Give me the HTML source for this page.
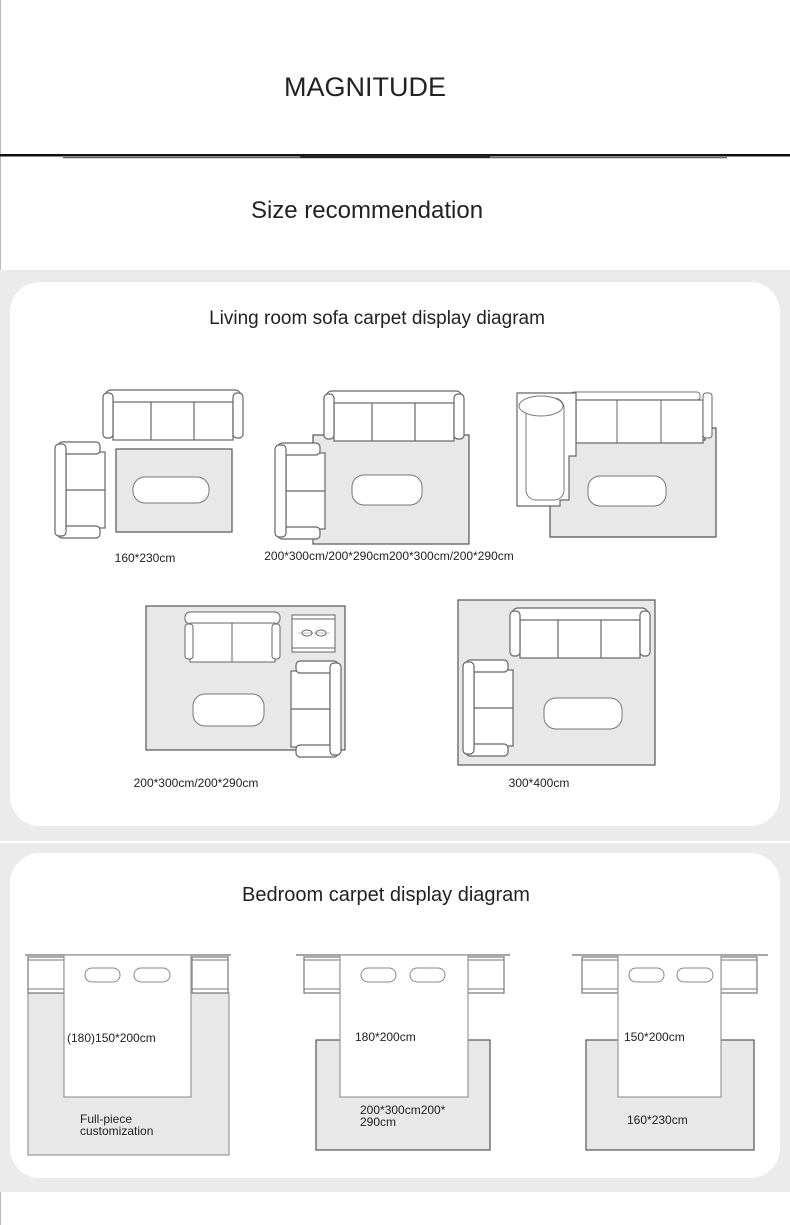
<!DOCTYPE html>
<html><head><meta charset="utf-8"><style>
html,body{margin:0;padding:0;background:#fff}
svg{display:block}
text{font-family:"Liberation Sans",sans-serif;fill:#222}
</style></head><body>
<svg width="790" height="1225" viewBox="0 0 790 1225" xmlns="http://www.w3.org/2000/svg">
<defs>
<g id="sofa3">
 <rect x="2" y="0" width="136" height="13" rx="6" fill="#fff" stroke="#666" stroke-width="1.2"/>
 <rect x="10" y="12" width="120" height="38" fill="#fff" stroke="#666" stroke-width="1.2"/>
 <line x1="48" y1="12" x2="48" y2="50" stroke="#666" stroke-width="1.2"/>
 <line x1="91" y1="12" x2="91" y2="50" stroke="#666" stroke-width="1.2"/>
 <rect x="0" y="3" width="10" height="45" rx="4" fill="#fff" stroke="#666" stroke-width="1.2"/>
 <rect x="130" y="3" width="10" height="45" rx="4" fill="#fff" stroke="#666" stroke-width="1.2"/>
</g>
<g id="chair">
 <rect x="11" y="10" width="39" height="76" fill="#fff" stroke="#666" stroke-width="1.2"/>
 <line x1="11" y1="48" x2="50" y2="48" stroke="#666" stroke-width="1.2"/>
 <rect x="3" y="0" width="42" height="12" rx="4" fill="#fff" stroke="#666" stroke-width="1.2"/>
 <rect x="3" y="84" width="42" height="12" rx="4" fill="#fff" stroke="#666" stroke-width="1.2"/>
 <rect x="0" y="2" width="11" height="92" rx="4" fill="#fff" stroke="#666" stroke-width="1.2"/>
</g>
<g id="nst"><rect x="0" y="0" width="36" height="36" fill="#fff" stroke="#777" stroke-width="1.2"/><line x1="0" y1="3" x2="36" y2="3" stroke="#777"/><line x1="0" y1="32" x2="36" y2="32" stroke="#777"/></g>
</defs>

<rect x="0" y="0" width="1" height="270" fill="#bbb"/>
<text x="365" y="96" font-size="27" text-anchor="middle">MAGNITUDE</text>
<rect x="0" y="154" width="790" height="2.5" fill="#111"/>
<rect x="63" y="157" width="664" height="1.3" fill="#666"/>
<rect x="300" y="155" width="190" height="3" rx="1.5" fill="#222"/>
<text x="367" y="218" font-size="24" text-anchor="middle">Size recommendation</text>

<rect x="0" y="270" width="790" height="571" fill="#ebebeb"/>
<rect x="0" y="843" width="790" height="349" fill="#ebebeb"/>
<rect x="10" y="282" width="770" height="544" rx="30" fill="#fff"/>
<rect x="10" y="853" width="770" height="325" rx="30" fill="#fff"/>

<text x="377" y="324" font-size="19" text-anchor="middle">Living room sofa carpet display diagram</text>

<rect x="116" y="449" width="116" height="83" fill="#e8e8e8" stroke="#555" stroke-width="1.2"/>
<rect x="133" y="477" width="76" height="26" rx="12" fill="#fff" stroke="#777"/>
<use href="#sofa3" x="103" y="390"/>
<use href="#chair" x="55" y="442"/>
<text x="145" y="562" font-size="12" text-anchor="middle">160*230cm</text>

<rect x="313" y="435" width="156" height="109" fill="#e8e8e8" stroke="#555" stroke-width="1.2"/>
<rect x="352" y="475" width="70" height="30" rx="12" fill="#fff" stroke="#777"/>
<use href="#sofa3" x="324" y="391"/>
<use href="#chair" x="275" y="443"/>
<text x="389" y="560" font-size="12" text-anchor="middle">200*300cm/200*290cm200*300cm/200*290cm</text>

<polygon points="550,440 705,440 705,428 716,428 716,537 550,537" fill="#e8e8e8" stroke="#555" stroke-width="1.2"/>
<rect x="588" y="476" width="78" height="30" rx="12" fill="#fff" stroke="#777"/>
<rect x="571" y="392" width="129" height="8" rx="3" fill="#fff" stroke="#777"/>
<rect x="576" y="400" width="127" height="43" fill="#fff" stroke="#666" stroke-width="1.2"/>
<line x1="617" y1="400" x2="617" y2="443" stroke="#666"/>
<line x1="661" y1="400" x2="661" y2="443" stroke="#666"/>
<rect x="703" y="393" width="9" height="45" rx="3" fill="#fff" stroke="#666"/>
<polygon points="517,393 576,393 576,456 569,456 569,500 560,500 560,506 517,506" fill="#fff" stroke="#666" stroke-width="1.2"/>
<rect x="526" y="398" width="38" height="102" rx="10" fill="#fff" stroke="#777"/>
<ellipse cx="541" cy="406" rx="22" ry="10" fill="#fff" stroke="#777"/>

<rect x="146" y="606" width="199" height="144" fill="#e8e8e8" stroke="#555" stroke-width="1.2"/>
<rect x="193" y="694" width="71" height="32" rx="12" fill="#fff" stroke="#777"/>
<g>
 <rect x="185" y="612" width="95" height="12" rx="5" fill="#fff" stroke="#666"/>
 <rect x="190" y="623" width="85" height="39" fill="#fff" stroke="#666"/>
 <line x1="232" y1="623" x2="232" y2="662" stroke="#666"/>
 <rect x="185" y="624" width="8" height="35" rx="3" fill="#fff" stroke="#666"/>
 <rect x="272" y="624" width="8" height="35" rx="3" fill="#fff" stroke="#666"/>
</g>
<rect x="292" y="615" width="43" height="37" fill="#fff" stroke="#666"/>
<line x1="292" y1="619" x2="335" y2="619" stroke="#666"/><line x1="292" y1="648" x2="335" y2="648" stroke="#666"/>
<ellipse cx="307" cy="633" rx="5" ry="3" fill="#fff" stroke="#666"/><ellipse cx="321" cy="633" rx="5" ry="3" fill="#fff" stroke="#666"/>
<line x1="298" y1="633" x2="330" y2="633" stroke="#888" stroke-width=".6"/>
<use href="#chair" transform="translate(341,661) scale(-1,1)"/>

<rect x="458" y="600" width="197" height="165" fill="#e8e8e8" stroke="#555" stroke-width="1.2"/>
<rect x="544" y="698" width="78" height="31" rx="12" fill="#fff" stroke="#777"/>
<use href="#sofa3" x="510" y="608"/>
<use href="#chair" x="463" y="660"/>
<text x="196" y="787" font-size="12" text-anchor="middle">200*300cm/200*290cm</text>
<text x="539" y="787" font-size="12" text-anchor="middle">300*400cm</text>

<text x="386" y="901" font-size="20" text-anchor="middle">Bedroom carpet display diagram</text>

<rect x="28" y="993" width="201" height="162" fill="#e8e8e8" stroke="#999" stroke-width="1.2"/>
<line x1="25" y1="955" x2="231" y2="955" stroke="#888" stroke-width="1.5"/>
<use href="#nst" x="28" y="957"/><use href="#nst" x="192" y="957"/>
<rect x="64" y="955" width="127" height="142" fill="#fff" stroke="#999" stroke-width="1.2"/>
<rect x="85" y="968" width="35" height="14" rx="7" fill="#fff" stroke="#888"/>
<rect x="134" y="968" width="36" height="14" rx="7" fill="#fff" stroke="#888"/>
<text x="67" y="1042" font-size="12">(180)150*200cm</text>
<text x="80" y="1123" font-size="12">Full-piece</text>
<text x="80" y="1135" font-size="12">customization</text>

<rect x="316" y="1040" width="174" height="110" fill="#e8e8e8" stroke="#555" stroke-width="1.2"/>
<line x1="296" y1="955" x2="510" y2="955" stroke="#888" stroke-width="1.5"/>
<use href="#nst" x="304" y="957"/><use href="#nst" x="468" y="957"/>
<rect x="340" y="955" width="128" height="142" fill="#fff" stroke="#999" stroke-width="1.2"/>
<rect x="361" y="968" width="35" height="14" rx="7" fill="#fff" stroke="#888"/>
<rect x="410" y="968" width="35" height="14" rx="7" fill="#fff" stroke="#888"/>
<text x="355" y="1041" font-size="12">180*200cm</text>
<text x="360" y="1114" font-size="12">200*300cm200*</text>
<text x="360" y="1126" font-size="12">290cm</text>

<rect x="586" y="1040" width="168" height="110" fill="#e8e8e8" stroke="#555" stroke-width="1.2"/>
<line x1="572" y1="955" x2="768" y2="955" stroke="#888" stroke-width="1.5"/>
<use href="#nst" x="582" y="957"/><use href="#nst" x="721" y="957"/>
<rect x="618" y="955" width="103" height="142" fill="#fff" stroke="#999" stroke-width="1.2"/>
<rect x="629" y="968" width="35" height="14" rx="7" fill="#fff" stroke="#888"/>
<rect x="677" y="968" width="36" height="14" rx="7" fill="#fff" stroke="#888"/>
<text x="624" y="1041" font-size="12">150*200cm</text>
<text x="627" y="1124" font-size="12">160*230cm</text>

<rect x="0" y="1192" width="1" height="33" fill="#bbb"/>
</svg>
</body></html>
